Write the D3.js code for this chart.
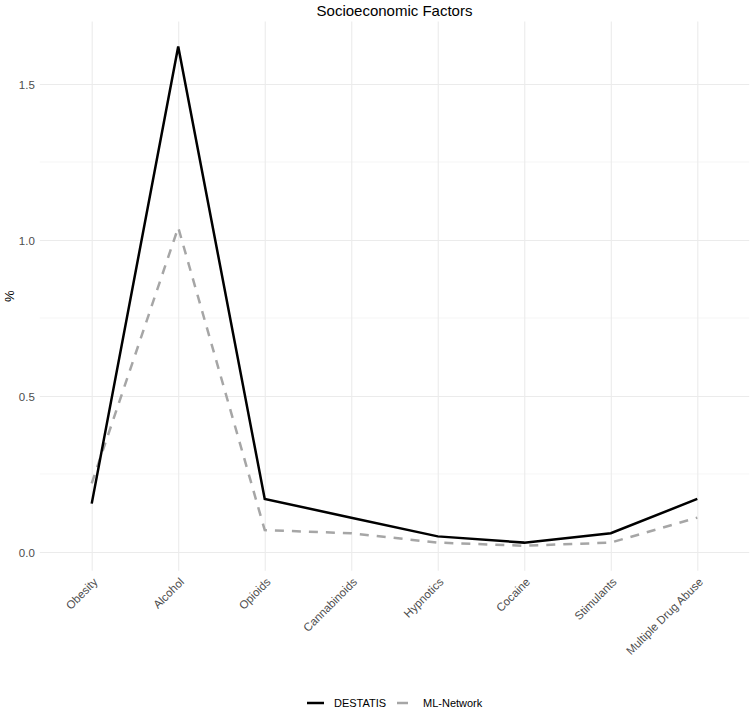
<!DOCTYPE html>
<html>
<head>
<meta charset="utf-8">
<script src="https://cdn.jsdelivr.net/npm/d3@7"></script>
<style>
  body { margin: 0; background: #fff; }
  svg { display: block; font-family: "Liberation Sans", Arial, sans-serif; }
</style>
</head>
<body>
<script>
var categories = ["Obesity", "Alcohol", "Opioids", "Cannabinoids", "Hypnotics", "Cocaine", "Stimulants", "Multiple Drug Abuse"];
var destatis = [0.155, 1.62, 0.17, 0.11, 0.05, 0.03, 0.06, 0.17];
var mlNetwork = [0.22, 1.04, 0.07, 0.06, 0.03, 0.02, 0.03, 0.11];
var yTicks = [0, 0.5, 1.0, 1.5];
var yMinor = [0.25, 0.75, 1.25];
var seriesNames = ["DESTATIS", "ML-Network"];

var W = 750, H = 709;
var panel = {left: 39.8, right: 749.2, top: 21.6, bottom: 570.7};

var svg = d3.select("body").append("svg")
	.attr("width", W)
	.attr("height", H);

var x = d3.scalePoint()
	.domain(categories)
	.range([panel.left, panel.right])
	.padding(0.6);

// ggplot style 5% expansion
var allVals = destatis.concat(mlNetwork);
var lo = d3.min(allVals), hi = d3.max(allVals), pad = (hi - lo) * 0.05;
var y = d3.scaleLinear()
	.domain([lo - pad, hi + pad])
	.range([panel.bottom, panel.top]);

// GRID
svg.append("g")
	.selectAll("line.minor")
	.data(yMinor)
	.enter().append("line")
	.attr("x1", panel.left).attr("x2", panel.right)
	.attr("y1", function(d) { return y(d); })
	.attr("y2", function(d) { return y(d); })
	.attr("stroke", "#f0f0f0")
	.attr("stroke-width", 0.6);

svg.append("g")
	.attr("transform", "translate(" + panel.left + ",0)")
	.call(d3.axisLeft(y).tickValues(yTicks).tickSize(-(panel.right - panel.left)).tickFormat(""))
	.call(function(g) {
		g.select(".domain").remove();
		g.selectAll("line").attr("stroke", "#ebebeb").attr("stroke-width", 1.1);
	});

svg.append("g")
	.attr("transform", "translate(0," + panel.bottom + ")")
	.call(d3.axisBottom(x).tickSize(-(panel.bottom - panel.top)).tickFormat(""))
	.call(function(g) {
		g.select(".domain").remove();
		g.selectAll("line").attr("stroke", "#ebebeb").attr("stroke-width", 1.1);
	});

// AXIS LABELS
svg.append("g")
	.attr("transform", "translate(" + (panel.left - 2) + ",0)")
	.call(d3.axisLeft(y).tickValues(yTicks).tickSize(0).tickFormat(d3.format(".1f")))
	.call(function(g) {
		g.select(".domain").remove();
		g.selectAll("text")
			.attr("fill", "#4d4d4d")
			.style("font-size", "11.5px")
			.attr("dy", "0.35em");
	});

svg.append("g")
	.attr("transform", "translate(0," + panel.bottom + ")")
	.call(d3.axisBottom(x).tickSize(0))
	.call(function(g) {
		g.select(".domain").remove();
		g.selectAll("text")
			.attr("fill", "#4d4d4d")
			.style("font-size", "11.5px")
			.style("text-anchor", "end")
			.attr("y", 0)
			.attr("dy", 0)
			.attr("transform", "translate(6,12) rotate(-45)");
	});

svg.append("text")
	.attr("transform", "translate(14," + ((panel.top + panel.bottom) / 2) + ") rotate(-90)")
	.attr("text-anchor", "middle")
	.style("font-size", "13px")
	.attr("fill", "#000")
	.text("%");

// TITLE
svg.append("text")
	.attr("x", (panel.left + panel.right) / 2)
	.attr("y", 16)
	.attr("text-anchor", "middle")
	.style("font-size", "15px")
	.attr("fill", "#000")
	.text("Socioeconomic Factors");

// LINES
var line = d3.line()
	.x(function(d, i) { return x(categories[i]); })
	.y(function(d) { return y(d); });

svg.append("path")
	.datum(mlNetwork)
	.attr("d", line)
	.attr("fill", "none")
	.attr("stroke", "#a6a6a6")
	.attr("stroke-width", 2.5)
	.attr("stroke-dasharray", "9,8");

svg.append("path")
	.datum(destatis)
	.attr("d", line)
	.attr("fill", "none")
	.attr("stroke", "#000")
	.attr("stroke-width", 2.5);

// LEGEND
var legY = 703;
var leg = svg.append("g");
leg.append("line")
	.attr("x1", 307).attr("x2", 324)
	.attr("y1", legY).attr("y2", legY)
	.attr("stroke", "#000").attr("stroke-width", 2.5);
leg.append("text")
	.attr("x", 334).attr("y", legY).attr("dy", "0.35em")
	.style("font-size", "11px")
	.text(seriesNames[0]);
leg.append("line")
	.attr("x1", 394).attr("x2", 411)
	.attr("y1", legY).attr("y2", legY)
	.attr("stroke", "#a6a6a6").attr("stroke-width", 2.5)
	.attr("stroke-dasharray", "0,3,11,3");
leg.append("text")
	.attr("x", 423).attr("y", legY).attr("dy", "0.35em")
	.style("font-size", "11px")
	.text(seriesNames[1]);
</script>
</body>
</html>
